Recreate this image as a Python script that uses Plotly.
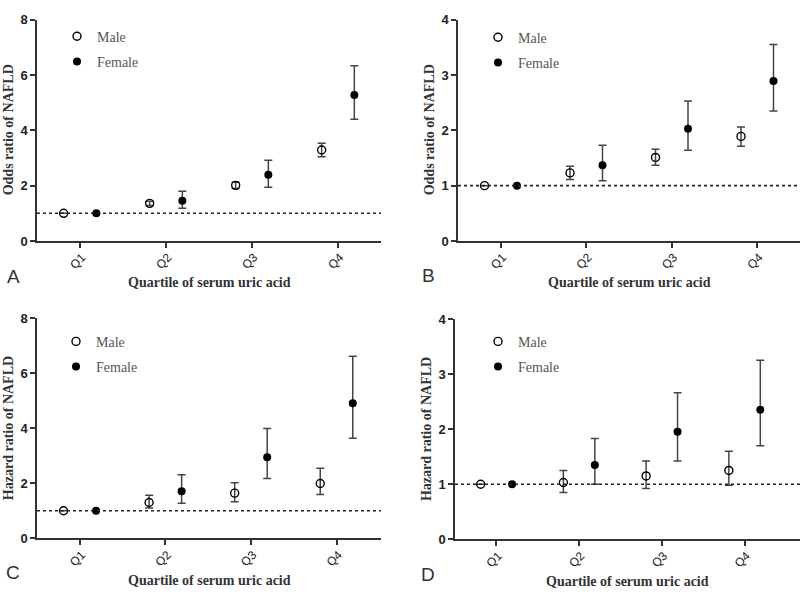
import plotly.graph_objects as go

categories = ["Q1", "Q2", "Q3", "Q4"]

# Panel A: Odds ratio (all)
A_male = [1.0, 1.36, 2.01, 3.29]
A_male_lo = [1.0, 1.28, 1.90, 3.04]
A_male_hi = [1.0, 1.44, 2.12, 3.53]
A_female = [1.0, 1.45, 2.39, 5.28]
A_female_lo = [1.0, 1.18, 1.94, 4.40]
A_female_hi = [1.0, 1.80, 2.92, 6.33]

# Panel B: Odds ratio (adjusted)
B_male = [1.0, 1.23, 1.51, 1.89]
B_male_lo = [1.0, 1.11, 1.37, 1.71]
B_male_hi = [1.0, 1.35, 1.66, 2.06]
B_female = [1.0, 1.37, 2.03, 2.89]
B_female_lo = [1.0, 1.09, 1.64, 2.35]
B_female_hi = [1.0, 1.73, 2.53, 3.55]

# Panel C: Hazard ratio
C_male = [1.0, 1.30, 1.64, 1.99]
C_male_lo = [1.0, 1.10, 1.33, 1.59]
C_male_hi = [1.0, 1.56, 2.02, 2.54]
C_female = [1.0, 1.71, 2.94, 4.90]
C_female_lo = [1.0, 1.27, 2.17, 3.63]
C_female_hi = [1.0, 2.31, 3.99, 6.61]

# Panel D: Hazard ratio (adjusted)
D_male = [1.0, 1.03, 1.15, 1.25]
D_male_lo = [1.0, 0.85, 0.92, 0.98]
D_male_hi = [1.0, 1.25, 1.42, 1.60]
D_female = [1.0, 1.35, 1.95, 2.35]
D_female_lo = [1.0, 1.00, 1.42, 1.70]
D_female_hi = [1.0, 1.83, 2.66, 3.25]

reference_value = 1.0
y_titles = ["Odds ratio of NAFLD", "Odds ratio of NAFLD", "Hazard ratio of NAFLD", "Hazard ratio of NAFLD"]
x_title = "Quartile of serum uric acid"
panel_letters = ["A", "B", "C", "D"]
y_max = [8, 4, 8, 4]
y_dtick = [2, 1, 2, 1]

panels = [
    (A_male, A_male_lo, A_male_hi, A_female, A_female_lo, A_female_hi),
    (B_male, B_male_lo, B_male_hi, B_female, B_female_lo, B_female_hi),
    (C_male, C_male_lo, C_male_hi, C_female, C_female_lo, C_female_hi),
    (D_male, D_male_lo, D_male_hi, D_female, D_female_lo, D_female_hi),
]

W, H = 800, 597
# layout in pixels: (x0, x1, y_top, y_bottom, x_range_max)
boxes = [
    (37, 381, 13, 240, 4.5),
    (458, 800, 13, 240, 4.5),
    (37, 381, 319, 545, 4.52),
    (455, 800, 320, 546, 4.67),
]
legend_pos = [(57, 14), (478, 15), (56, 327), (478, 327)]
letter_pos = [(13, 276), (428, 275), (13, 580), (428, 582)]

AX = "#333333"
ERR = "#444444"
OFFSET = 0.19

fig = go.Figure()

def errs(v, lo, hi):
    up = [None if h == x else h - x for x, h in zip(v, hi)]
    dn = [None if l == x else x - l for x, l in zip(v, lo)]
    return up, dn

annotations = []
shapes = []
for i, (m, mlo, mhi, f, flo, fhi) in enumerate(panels):
    k = "" if i == 0 else str(i + 1)
    xa, ya = "x" + k, "y" + k
    lg = "legend" + k
    idx = list(range(1, len(categories) + 1))
    mu, md = errs(m, mlo, mhi)
    fu, fd = errs(f, flo, fhi)
    fig.add_trace(go.Scatter(
        x=[j - OFFSET for j in idx], y=m, mode="markers", name="Male",
        marker=dict(symbol="circle-open", size=8, color="black", line=dict(width=1.4, color="black")),
        error_y=dict(type="data", array=mu, arrayminus=md, symmetric=False,
                     color=ERR, thickness=1.5, width=4),
        xaxis=xa, yaxis=ya, legend=lg, legendgroup="m" + k,
    ))
    fig.add_trace(go.Scatter(
        x=[j + OFFSET for j in idx], y=f, mode="markers", name="Female",
        marker=dict(symbol="circle", size=8, color="black"),
        error_y=dict(type="data", array=fu, arrayminus=fd, symmetric=False,
                     color=ERR, thickness=1.5, width=4),
        xaxis=xa, yaxis=ya, legend=lg, legendgroup="f" + k,
    ))

    x0, x1, yt, yb, xr = boxes[i]
    xd = [x0 / W, x1 / W]
    yd = [1 - yb / H, 1 - yt / H]
    fig.update_layout(**{
        "xaxis" + k: dict(
            domain=xd, range=[0.5, xr], anchor=ya, tickmode="array",
            tickvals=idx, ticktext=categories, tickangle=-45,
            showline=True, linecolor=AX, linewidth=1.5, ticks="outside",
            ticklen=5, tickwidth=1.5, tickcolor=AX, showgrid=False, zeroline=False,
            ticklabelshift=2, ticklabelstandoff=-2,
            tickfont=dict(family="Liberation Sans, Arial", size=12, color="#222222"),
        ),
        "yaxis" + k: dict(
            domain=yd, range=[0, y_max[i]], dtick=y_dtick[i], anchor=xa,
            showline=True, linecolor=AX, linewidth=1.5, ticks="outside",
            ticklen=5, tickwidth=1.5, tickcolor=AX, showgrid=False, zeroline=False,
            tickfont=dict(family="Liberation Sans, Arial", size=13, color="#222222", weight="bold"),
        ),
        lg: dict(
            x=legend_pos[i][0] / W, y=1 - legend_pos[i][1] / H, xref="paper", yref="paper",
            xanchor="left", yanchor="top", bgcolor="rgba(0,0,0,0)",
            font=dict(family="Liberation Serif, Times New Roman", size=14, color="#555555"),
            tracegroupgap=4, traceorder="grouped", itemwidth=30,
        ),
    })
    shapes.append(dict(
        type="line", xref=xa + " domain", yref=ya, x0=0, x1=1,
        y0=reference_value, y1=reference_value,
        line=dict(color="#222222", width=1.6, dash="3px,3px"),
    ))
    annotations.append(dict(
        text=x_title, xref="paper", yref="paper",
        x=(x0 + x1) / 2 / W,
        y=1 - (yb + 43) / H, xanchor="center", yanchor="middle", showarrow=False,
        font=dict(family="Liberation Serif, Times New Roman", size=14, color="#333333", weight="bold"),
    ))
    annotations.append(dict(
        text=y_titles[i], xref="paper", yref="paper",
        x=(x0 - 29) / W, y=1 - (yt + yb) / 2 / H, textangle=-90,
        xanchor="center", yanchor="middle", showarrow=False,
        font=dict(family="Liberation Serif, Times New Roman", size=14, color="#333333", weight="bold"),
    ))
    annotations.append(dict(
        text=panel_letters[i], xref="paper", yref="paper",
        x=letter_pos[i][0] / W, y=1 - letter_pos[i][1] / H,
        xanchor="center", yanchor="middle", showarrow=False,
        font=dict(family="Liberation Sans, Arial", size=19, color="#333333"),
    ))

fig.update_layout(
    width=W, height=H, margin=dict(l=0, r=0, t=0, b=0),
    paper_bgcolor="white", plot_bgcolor="white",
    annotations=annotations, shapes=shapes, showlegend=True,
)

fig.write_html(
    "out.html",
    config={"displayModeBar": False},
    post_script="document.body.style.margin='0px';document.body.style.overflow='hidden';",
)
